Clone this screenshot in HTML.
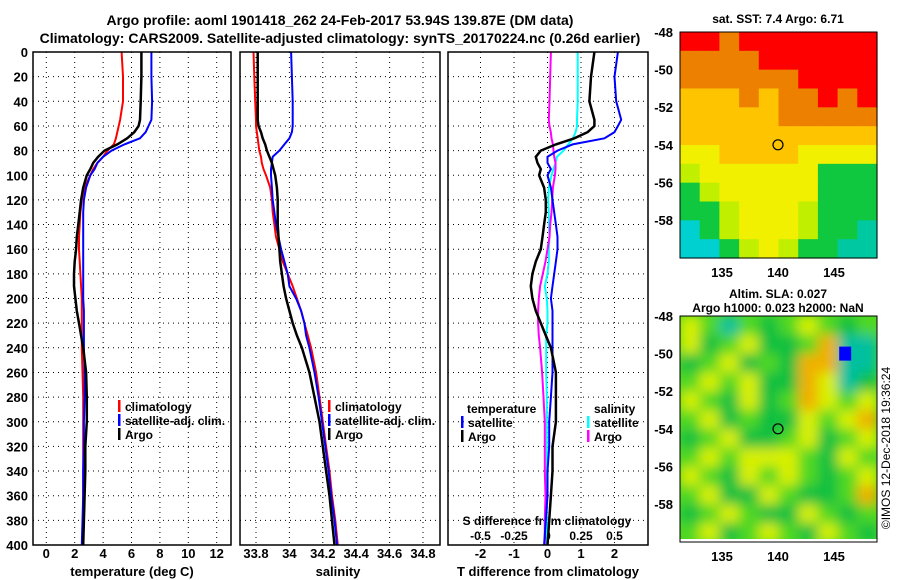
<!DOCTYPE html>
<html><head><meta charset="utf-8"><style>
body{margin:0;background:#fff;}
svg{display:block;font-family:"Liberation Sans",sans-serif;font-weight:bold;}
</style></head><body>
<svg id="fig" width="900" height="580" viewBox="0 0 900 580">
<defs>
<filter id="blur" x="-0.1" y="-0.1" width="1.2" height="1.2"><feGaussianBlur stdDeviation="6"/></filter>
<clipPath id="clipM2"><rect x="680" y="316" width="197" height="223"/></clipPath>
</defs>
<text x="340" y="25" text-anchor="middle" font-size="14">Argo profile: aoml 1901418_262 24-Feb-2017 53.94S 139.87E (DM data)</text>
<text x="340" y="43" text-anchor="middle" font-size="14">Climatology: CARS2009. Satellite-adjusted climatology: synTS_20170224.nc (0.26d earlier)</text>
<g id="g"></g>
</svg>
<script>
const depths=[0,20,40,55,60,65,70,75,80,85,90,95,100,110,120,130,140,150,160,170,180,190,200,210,220,230,240,260,280,300,320,340,360,380,400];
const tempClim=[5.3,5.4,5.4,5.2,5.1,5.0,4.9,4.75,4.3,4.0,3.6,3.3,3.1,2.7,2.5,2.4,2.35,2.3,2.3,2.35,2.4,2.45,2.5,2.5,2.5,2.5,2.5,2.55,2.6,2.6,2.6,2.6,2.6,2.6,2.6];
const tempSat=[7.4,7.4,7.45,7.4,7.2,7.0,6.6,5.5,4.6,4.0,3.6,3.4,3.1,2.8,2.65,2.6,2.6,2.6,2.6,2.6,2.6,2.6,2.6,2.65,2.65,2.65,2.65,2.7,2.7,2.65,2.65,2.6,2.6,2.55,2.5];
const tempArgo=[6.7,6.7,6.65,6.6,6.5,6.2,5.7,5.0,4.1,3.65,3.3,3.1,2.85,2.6,2.45,2.35,2.25,2.15,2.1,2.0,1.95,1.95,2.05,2.15,2.3,2.45,2.6,2.8,2.85,2.85,2.75,2.75,2.7,2.65,2.6];
const salClim=[33.785,33.79,33.795,33.8,33.8,33.805,33.81,33.815,33.82,33.83,33.835,33.845,33.86,33.885,33.895,33.9,33.91,33.92,33.94,33.96,33.99,34.02,34.045,34.07,34.09,34.11,34.13,34.16,34.18,34.2,34.22,34.24,34.255,34.275,34.29];
const salSat=[34.01,34.015,34.02,34.02,34.02,34.015,34.0,33.97,33.94,33.9,33.895,33.89,33.89,33.895,33.9,33.91,33.92,33.935,33.95,33.97,33.99,34.0,34.04,34.07,34.09,34.1,34.12,34.15,34.175,34.195,34.215,34.235,34.25,34.27,34.285];
const salArgo=[33.81,33.81,33.81,33.81,33.815,33.83,33.84,33.855,33.865,33.88,33.895,33.905,33.915,33.925,33.93,33.93,33.93,33.935,33.94,33.945,33.955,33.965,33.98,34.0,34.02,34.045,34.075,34.12,34.15,34.18,34.2,34.22,34.24,34.255,34.27];
const depthTicks=[0,20,40,60,80,100,120,140,160,180,200,220,240,260,280,300,320,340,360,380,400];
const tempTicks=[0,2,4,6,8,10,12];
const salTicks=[33.8,34,34.2,34.4,34.6,34.8];
const salTickLabels=["33.8","34","34.2","34.4","34.6","34.8"];
const tdiffTicks=[-2,-1,0,1,2];
const sdiffTicks=[-0.5,-0.25,0,0.25,0.5];
const sdiffTickLabels=["-0.5","-0.25","0","0.25","0.5"];
const sstRows=["RRORRRRRRR","OOOORRRRRR","OOOOOORRRR","AAAOAOOROR","AAAAAOOOOO","AAAAAAAAAA","YYAAAAYYYY","LYYYYYYGGG","GLYYYYYGGG","GGLYYYLGGG","CGLYYYLGGT","CCGLYLGGTT"];
const slaRows=["YgTgGgYgGg","YGgYGGgOTT","GgYGgGOOTT","gYgYGGOYTG","YgGYGgOYgY","gYGgGGYgYO","GgYGGgYGgY","gYgYYYgGYg","YgGYgYgGgY","gYGGYgGGgO","GgYgGGYgGg","gYGgYgGYgG"];
const latTicks=[-48,-50,-52,-54,-56,-58];
const lonTicks=[135,140,145];

const NS="http://www.w3.org/2000/svg";
const G=document.getElementById('g');
function el(t,a,p){const e=document.createElementNS(NS,t);for(const k in a)e.setAttribute(k,a[k]);(p||G).appendChild(e);return e;}
const Y0=52,YB=545;
const yD=d=>Y0+(YB-Y0)*d/400;
const xT=t=>46.3+14.2*t;
const xS=s=>256+167*(s-33.8);
const xTd=t=>547.5+33.5*t;
const xSd=s=>547.5+134*s;

function panel(name,L,R){
  const gg=el('g',{});
  
  
  for(const d of depthTicks){ if(d===0||d===400)continue;
    const ln=el('line',{x1:L,x2:R,y1:yD(d),y2:yD(d),stroke:'#000','stroke-width':1,'stroke-dasharray':'1,4'},gg);
    
    
  }
  return gg;
}
function vgrid(gg,x){const ln=el('line',{x1:x,x2:x,y1:Y0,y2:YB,stroke:'#000','stroke-width':1,'stroke-dasharray':'1,4'},gg);
  
  }
function frame(gg,L,R){const r=el('rect',{x:L,y:Y0,width:R-L,height:YB-Y0,fill:'none',stroke:'#000','stroke-width':1.5},gg);
  
  }
function text(gg,x,y,s,opt){const t=el('text',Object.assign({x:x,y:y,'font-size':13},opt||{}),gg);t.textContent=s;return t;}
function line(gg,vals,fx,color,w,name){
  const pts=vals.map((v,i)=>fx(v).toFixed(1)+','+yD(depths[i]).toFixed(1)).join(' ');
  const p=el('polyline',{points:pts,fill:'none',stroke:color,'stroke-width':w},gg);
  
  
}
function legendBar(gg,x,y,color){el('rect',{x:x,y:y-11,width:2.5,height:12,fill:color},gg);}

// Panel 1
let p1=panel('temperature-panel',33,231);
tempTicks.forEach(t=>{vgrid(p1,xT(t));const lb=text(p1,xT(t),558,String(t),{'text-anchor':'middle'});
  
  });
depthTicks.forEach(d=>{const lb=text(p1,28,yD(d)+5,String(d),{'text-anchor':'end'});
  
  });
const xt1=text(p1,132,576,'temperature (deg C)',{'text-anchor':'middle'});


line(p1,tempClim,xT,'#f00',2,'temp-climatology-line');
line(p1,tempSat,xT,'#00f',2,'temp-satellite-line');
line(p1,tempArgo,xT,'#000',2.5,'temp-argo-line');
frame(p1,33,231);
[['climatology','#f00',411],['satellite-adj. clim.','#00f',425],['Argo','#000',439]].forEach(([s,c,y])=>{legendBar(p1,118,y,c);const t=text(p1,125,y,s,{'font-size':12});
  
  });

// Panel 2
let p2=panel('salinity-panel',240,440);
salTicks.forEach((s,i)=>{vgrid(p2,xS(s));const lb=text(p2,xS(s),558,salTickLabels[i],{'text-anchor':'middle'});
  
  });
const xt2=text(p2,338,576,'salinity',{'text-anchor':'middle'});


line(p2,salClim,xS,'#f00',2,'sal-climatology-line');
line(p2,salSat,xS,'#00f',2,'sal-satellite-line');
line(p2,salArgo,xS,'#000',2.5,'sal-argo-line');
frame(p2,240,440);
[['climatology','#f00',411],['satellite-adj. clim.','#00f',425],['Argo','#000',439]].forEach(([s,c,y])=>{legendBar(p2,328,y,c);const t=text(p2,335,y,s,{'font-size':12});
  
  });

// Panel 3
let p3=panel('difference-panel',448,648);
tdiffTicks.forEach(t=>{vgrid(p3,xTd(t));const lb=text(p3,xTd(t),558,String(t),{'text-anchor':'middle'});
  
  });
sdiffTicks.forEach((s,i)=>{const lb=text(p3,xSd(s),540,sdiffTickLabels[i],{'text-anchor':'middle','font-size':12});
  
  });
const sdt=text(p3,547,525,'S difference from climatology',{'text-anchor':'middle','font-size':12});


const xt3=text(p3,548,576,'T difference from climatology',{'text-anchor':'middle'});


line(p3,salSat.map((v,i)=>v-salClim[i]),xSd,'#0ff',2,'sdiff-satellite-line');
line(p3,salArgo.map((v,i)=>v-salClim[i]),xSd,'#f0f',2,'sdiff-argo-line');
line(p3,tempSat.map((v,i)=>v-tempClim[i]),xTd,'#00f',2,'tdiff-satellite-line');
line(p3,tempArgo.map((v,i)=>v-tempClim[i]),xTd,'#000',2.5,'tdiff-argo-line');
frame(p3,448,648);
[['temperature',null,467,413],['satellite','#00f',468,427],['Argo','#000',468,441],['salinity',null,594,413],['satellite','#0ff',594,427],['Argo','#f0f',594,441]].forEach(([s,c,x,y])=>{if(c)legendBar(p3,x-7,y,c);const t=text(p3,x,y,s,{'font-size':12});
  
  });

// Maps
const colSST={R:'#ff0000',O:'#ee8000',A:'#ffc400',Y:'#f0f000',L:'#c0f000',G:'#10c840',T:'#00c8a0',C:'#00d0d0'};
const colSLA={Y:'#d8f000',g:'#50d820',G:'#10c040',O:'#f0b000',T:'#00c0a0',B:'#0000ff'};
function map(name,top,rows,cols,blur){
  const mg=el('g',{});
  
  
  const L=680,W=197,H=226;
  const yL=lat=>top+(-48-lat)*18.8;
  const xL=lon=>778+(lon-140)*11.2;
  const outer=el('g',blur?{'clip-path':'url(#clipM2)'}:{},mg);
  if(blur) el('rect',{x:L,y:top,width:W,height:H,fill:'#50d820'},outer);
  const inner=el('g',blur?{filter:'url(#blur)'}:{},outer);
  const ch=H/rows.length,cw=W/rows[0].length;
  rows.forEach((r,i)=>{for(let j=0;j<r.length;j++){el('rect',{x:L+j*cw,y:top+i*ch,width:cw+0.6,height:ch+0.6,fill:cols[r[j]]},inner);}});
  if(blur){el('rect',{x:xL(146)-6,y:yL(-50)-7,width:12,height:14,fill:'#0000ff'},mg);}
  latTicks.forEach(l=>{const t=text(mg,673,yL(l)+5,String(l),{'text-anchor':'end'});
    
    });
  lonTicks.forEach(l=>{const t=text(mg,xL(l),top+H+19,String(l),{'text-anchor':'middle'});
    
    });
  const c=el('circle',{cx:xL(140),cy:yL(-54),r:5,fill:'none',stroke:'#000','stroke-width':1.2},mg);
  
  
  el('rect',{x:L,y:top,width:W,height:H,fill:'none',stroke:'#000','stroke-width':1},mg);
}
map('sst-map',32,sstRows,colSST,false);
map('sla-map',316,slaRows,colSLA,true);
const t1=text(G,778,23,'sat. SST: 7.4 Argo: 6.71',{'text-anchor':'middle','font-size':12});


const t2=text(G,778,298,'Altim. SLA: 0.027',{'text-anchor':'middle','font-size':12});


const t3=text(G,778,312,'Argo h1000: 0.023 h2000: NaN',{'text-anchor':'middle','font-size':12});


const cr=text(G,0,0,'©IMOS 12-Dec-2018 19:36:24',{'text-anchor':'middle','font-size':12,'font-weight':'normal',transform:'translate(890,448) rotate(-90)'});


</script>
</body></html>
